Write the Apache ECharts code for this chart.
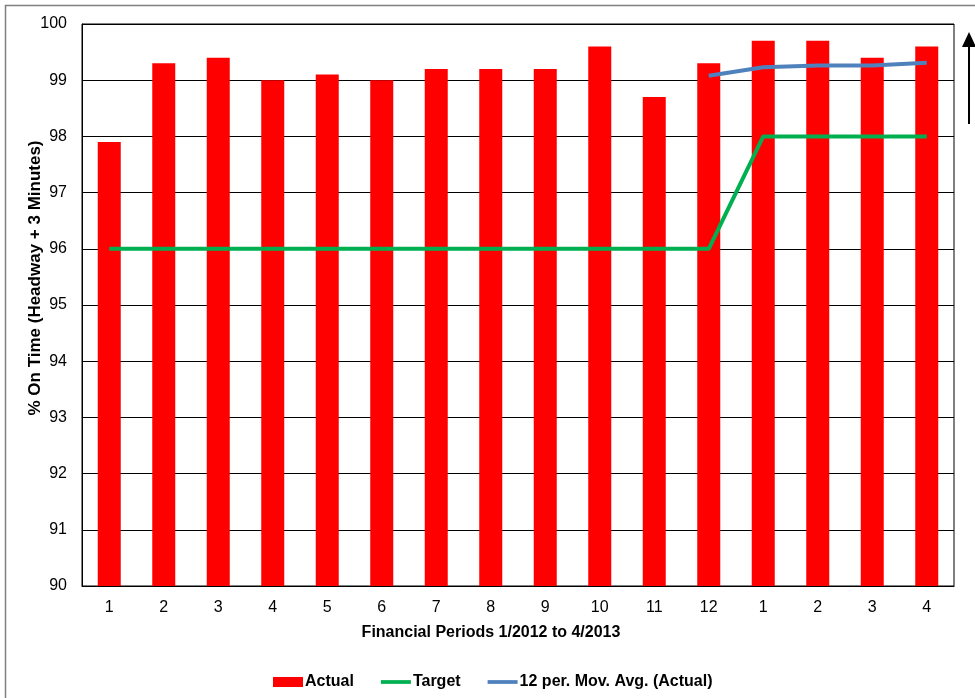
<!DOCTYPE html>
<html>
<head>
<meta charset="utf-8">
<script src="https://cdn.jsdelivr.net/npm/echarts@6/dist/echarts.min.js"></script>
<style>
  html, body { margin: 0; padding: 0; background: #fff; }
  #chart { width: 975px; height: 698px; }
</style>
</head>
<body>
<div id="chart"></div>
<script>
// Financial periods 1/2012 .. 4/2013
const periods = ['1', '2', '3', '4', '5', '6', '7', '8', '9', '10', '11', '12', '1', '2', '3', '4'];
// % on time (headway + 3 minutes)
const actual = [97.9, 99.3, 99.4, 99.0, 99.1, 99.0, 99.2, 99.2, 99.2, 99.6, 98.7, 99.3, 99.7, 99.7, 99.4, 99.6];
const target = [96, 96, 96, 96, 96, 96, 96, 96, 96, 96, 96, 96, 98, 98, 98, 98];
const movingAvg = ['-', '-', '-', '-', '-', '-', '-', '-', '-', '-', '-', 99.08, 99.23, 99.26, 99.26, 99.31];
const yTicks = [90, 91, 92, 93, 94, 95, 96, 97, 98, 99, 100];

const FONT = '"Liberation Sans", Arial, sans-serif';
const chart = echarts.init(document.getElementById('chart'), null, { renderer: 'canvas' });

const lineIcon = 'path://M0,0 H32 V4 H0 Z';

chart.setOption({
  animation: false,
  backgroundColor: '#ffffff',
  textStyle: { fontFamily: FONT },
  grid: {
    left: 82, top: 24, right: 21, bottom: 112,
    show: true, borderColor: '#000', borderWidth: 1, backgroundColor: 'transparent'
  },
  legend: {
    left: 268, top: 669,
    itemWidth: 30, itemHeight: 10, itemGap: 27,
    textStyle: { fontFamily: FONT, fontSize: 16, fontWeight: 'bold', color: '#000', padding: [0, 0, 0, -3] },
    data: [
      { name: 'Actual', icon: 'rect' },
      { name: 'Target', icon: lineIcon },
      { name: '12 per. Mov. Avg. (Actual)', icon: lineIcon }
    ]
  },
  xAxis: {
    type: 'category',
    data: periods,
    axisLine: { lineStyle: { color: '#000', width: 1 } },
    axisTick: { show: false },
    axisLabel: { color: '#000', fontSize: 16, fontFamily: FONT, margin: 14 },
    splitLine: { show: false }
  },
  yAxis: {
    type: 'value',
    min: yTicks[0], max: yTicks[yTicks.length - 1], interval: 1,
    axisLine: { show: true, lineStyle: { color: '#000', width: 1 } },
    axisTick: { show: false },
    axisLabel: { color: '#000', fontSize: 16, fontFamily: FONT, margin: 15 },
    splitLine: { lineStyle: { color: '#000', width: 1 } }
  },
  series: [
    {
      name: 'Actual', type: 'bar', data: actual,
      barWidth: 23,
      itemStyle: { color: '#ff0000' }
    },
    {
      name: 'Target', type: 'line', data: target,
      symbol: 'none', showSymbol: false,
      itemStyle: { color: '#00b050' },
      lineStyle: { color: '#00b050', width: 4 }
    },
    {
      name: '12 per. Mov. Avg. (Actual)', type: 'line', data: movingAvg,
      symbol: 'none', showSymbol: false,
      itemStyle: { color: '#4f81bd' },
      lineStyle: { color: '#4f81bd', width: 4 }
    }
  ],
  graphic: [
    // outer chart frame
    {
      type: 'rect', silent: true, z: 0,
      shape: { x: 5.5, y: 5.5, width: 1000, height: 1000 },
      style: { fill: 'none', stroke: '#7f7f7f', lineWidth: 1.5 }
    },
    // axis titles
    {
      type: 'text', silent: true,
      x: 491, y: 625,
      style: { text: 'Financial Periods 1/2012 to 4/2013', font: 'bold 16px ' + FONT, fill: '#000', textAlign: 'center', textVerticalAlign: 'top' }
    },
    {
      type: 'text', silent: true,
      x: 35, y: 278, rotation: Math.PI / 2,
      style: { text: '% On Time (Headway + 3 Minutes)', font: 'bold 17px ' + FONT, fill: '#000', textAlign: 'center', textVerticalAlign: 'middle' }
    },
    // "higher is better" arrow
    {
      type: 'line', silent: true,
      shape: { x1: 969, y1: 124, x2: 969, y2: 44 },
      style: { stroke: '#000', lineWidth: 2 }
    },
    {
      type: 'polygon', silent: true,
      shape: { points: [[962, 47], [976, 47], [969, 32]] },
      style: { fill: '#000' }
    }
  ]
});
</script>
</body>
</html>
